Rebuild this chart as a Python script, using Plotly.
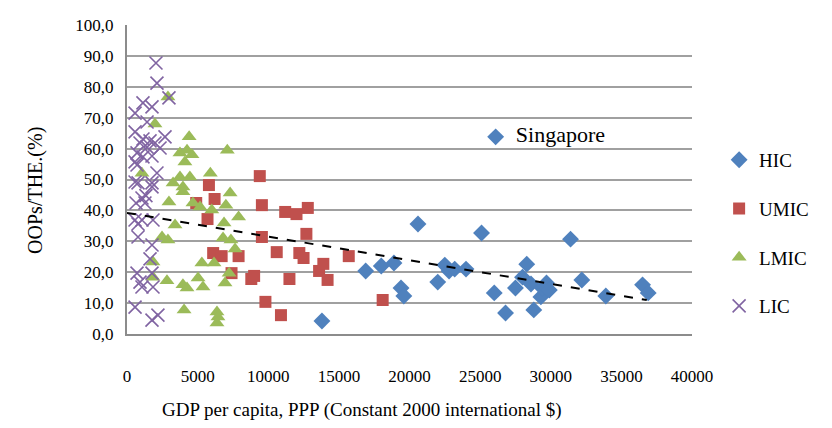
import plotly.graph_objects as go

# GDP per capita (PPP) and OOP share of total health expenditure, by income group
hic_x = [13800, 16900, 18000, 18900, 19400, 19600, 20600, 22000, 22500, 22800, 23200, 24000,
         25100, 26000, 26800, 27500, 28000, 28300, 28600, 28800, 29300, 29400, 29700, 29900,
         31400, 32200, 33900, 36500, 36900]
hic_y = [4.2, 20.4, 22.0, 23.0, 14.9, 12.3, 35.6, 16.8, 22.3, 20.4, 21.0, 21.0,
         32.7, 13.3, 6.8, 14.9, 18.4, 22.6, 16.2, 7.8, 12.0, 14.9, 16.5, 14.2,
         30.7, 17.5, 12.3, 15.9, 13.3]

sing_x = [26100]
sing_y = [63.8]

umic_x = [4900, 5800, 5700, 6200, 6100, 6700, 7400, 7900, 8800, 9000, 9400, 9550, 9550, 9800,
          10600, 10900, 11200, 11500, 12000, 12200, 12500, 12700, 12800, 13600, 13900, 14200,
          15700, 18100]
umic_y = [42.4, 48.2, 37.2, 43.7, 26.2, 25.2, 19.7, 25.2, 17.8, 18.8, 51.1, 41.7, 31.4, 10.4,
          26.5, 6.1, 39.5, 17.8, 38.8, 26.2, 24.6, 32.4, 40.8, 20.4, 22.7, 17.5,
          25.2, 11.0]

lmic_x = [2900, 1980, 4400, 3750, 4250, 4600, 4100, 7100, 1060, 5900, 3750, 4450, 3260, 3960,
          3960, 7300, 2970, 4670, 5170, 6000, 7000, 7900, 6870, 3400, 2480, 2900, 6800, 7360,
          7650, 1840, 5300, 6160, 7230, 1840, 2830, 3960, 5030, 4250, 5380, 6940, 4040, 6370,
          6440, 6370]
lmic_y = [76.7, 68.0, 63.8, 58.6, 59.5, 58.0, 55.7, 59.5, 52.0, 52.0, 50.8, 50.8, 48.9, 47.6,
          46.0, 45.6, 42.7, 42.4, 41.1, 40.1, 41.7, 37.9, 35.9, 35.3, 31.4, 30.4, 31.1, 30.4,
          27.5, 23.3, 23.0, 23.0, 19.7, 18.4, 17.2, 15.9, 18.1, 14.9, 15.2, 16.5, 7.8, 7.1,
          5.5, 3.6]

lic_x = [2050, 2120, 2970, 1130, 1770, 570, 1420, 570, 2690, 1130, 1630, 920, 1980, 1420, 2340,
         710, 1130, 1770, 570, 710, 2120, 570, 1770, 780, 1770, 1060, 1340, 640, 1270, 570,
         1060, 1840, 780, 780, 1770, 1630, 710, 1770, 920, 1840, 1060, 570, 2190, 1770]
lic_y = [87.7, 81.2, 76.4, 74.8, 73.5, 71.5, 68.6, 65.4, 63.8, 63.1, 62.5, 61.8, 61.8, 60.5, 60.2,
         58.6, 57.3, 57.6, 55.7, 54.7, 52.1, 49.2, 48.9, 48.9, 47.6, 44.0, 44.8, 42.4, 42.4, 36.9,
         36.9, 36.9, 35.6, 31.4, 28.8, 24.3, 19.7, 19.7, 16.8, 15.2, 15.2, 8.7, 6.1, 4.5]

# linear trendline end points
trend_x = [0, 36800]
trend_y = [39.2, 11.0]

x_ticks = list(range(0, 40001, 5000))
y_ticks = list(range(0, 101, 10))

FONT = "Liberation Serif"

fig = go.Figure()

fig.add_trace(go.Scatter(x=hic_x, y=hic_y, mode="markers", name="HIC", legendgroup="a",
                         marker=dict(symbol="diamond", size=13, color="#4F81BD")))
fig.add_trace(go.Scatter(x=umic_x, y=umic_y, mode="markers", name="UMIC", legendgroup="b",
                         marker=dict(symbol="square", size=12, color="#C0504D")))
fig.add_trace(go.Scatter(x=lmic_x, y=lmic_y, mode="markers", name="LMIC", legendgroup="c",
                         marker=dict(symbol="triangle-up", size=13, color="#9BBB59")))
fig.add_trace(go.Scatter(x=lic_x, y=lic_y, mode="markers", name="LIC", legendgroup="d",
                         marker=dict(symbol="x-thin", size=13, color="#8064A2",
                                     line=dict(color="#8064A2", width=1.6))))

fig.add_trace(go.Scatter(x=sing_x, y=sing_y, mode="markers+text", text=["  Singapore"],
                         textposition="middle right", showlegend=False,
                         textfont=dict(family=FONT, size=22, color="black"),
                         marker=dict(symbol="diamond", size=13, color="#4F81BD")))

fig.add_trace(go.Scatter(x=trend_x, y=trend_y, mode="lines", showlegend=False,
                         line=dict(color="black", width=2, dash="dash")))

# the page body adds an 8px offset, so margins are shifted to compensate
fig.update_layout(
    width=832, height=428,
    margin=dict(l=119, r=148, t=17, b=102),
    paper_bgcolor="white", plot_bgcolor="white",
    separators=", ",
    font=dict(family=FONT, size=17, color="black"),
    showlegend=True,
    legend=dict(x=1.048, y=0.327, xanchor="left", yanchor="middle",
                tracegroupgap=21, font=dict(family=FONT, size=19)),
    annotations=[
        dict(text="GDP per capita, PPP (Constant 2000 international $)",
             xref="paper", yref="paper", x=0.416, y=-0.246,
             xanchor="center", yanchor="middle", showarrow=False,
             font=dict(size=19)),
        dict(text="OOPs/THE.(%)", textangle=-90,
             xref="paper", yref="paper", x=-0.163, y=0.466,
             xanchor="center", yanchor="middle", showarrow=False,
             font=dict(size=20)),
    ],
)

fig.update_xaxes(range=[0, 40000], tickvals=x_ticks, tickformat="d",
                 showgrid=False, zeroline=False, showline=True,
                 linecolor="#8c8c8c", linewidth=2, ticks="",
                 ticklabelstandoff=26, automargin=False)
fig.update_yaxes(range=[0, 100], tickvals=y_ticks, tickformat=".1f",
                 showgrid=True, gridcolor="#a0a0a0", gridwidth=1.5,
                 zeroline=False, showline=True, linecolor="#8c8c8c", linewidth=2,
                 ticks="", ticklabelstandoff=8, automargin=False)

fig.write_html("out.html")
